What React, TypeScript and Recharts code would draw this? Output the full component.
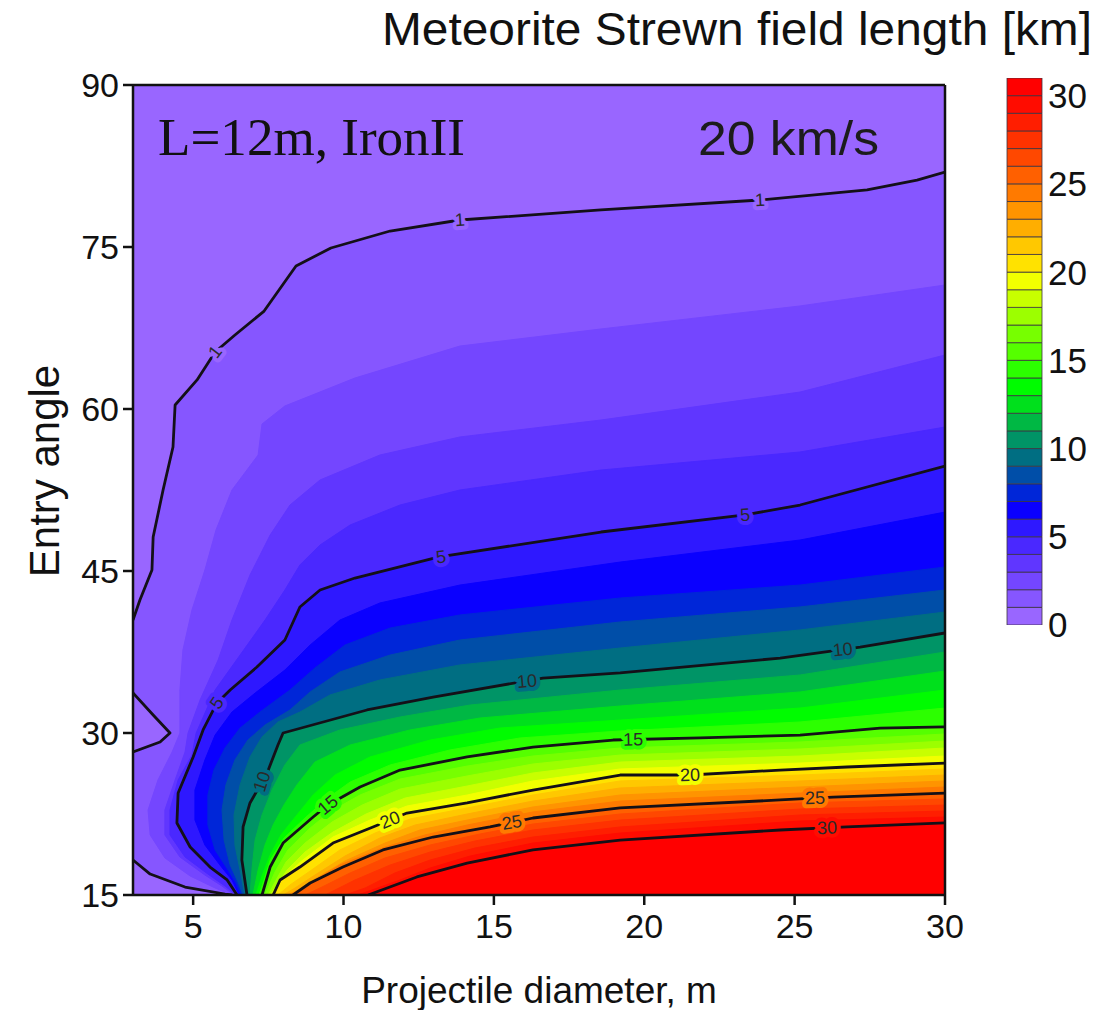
import React from 'react';
import { ComposedChart, Scatter, XAxis, YAxis, BarChart, Bar } from 'recharts';

type P = [number, number];

const FONT = '"Liberation Sans", Arial, Helvetica, sans-serif';
const SERIF = '"Liberation Serif", "Times New Roman", serif';

// colour of each 1 km band: index i = [i, i+1) km, last = >= 30 km
const BAND_COLORS = [
  '#9966ff', '#8656ff', '#7446ff', '#6036ff', '#4a28ff', '#2e18ff', '#0a00ff', '#0026d8',
  '#004ea8', '#006e82', '#009466', '#00b844', '#00e01c', '#00fc00', '#2cff00', '#55ff00',
  '#77ff00', '#9cff00', '#c8ff00', '#f2ff00', '#ffe200', '#ffc800', '#ffae00', '#ff9400',
  '#ff7a00', '#ff6000', '#ff4800', '#ff3200', '#ff1e00', '#ff0c00', '#ff0000',
];

const X_TICKS = [5, 10, 15, 20, 25, 30];
const Y_TICKS = [15, 30, 45, 60, 75, 90];
const Y_RIGHT_TICKS = [20, 30, 40, 50, 60, 70, 80];
const X_TOP_TICKS = [5, 10, 15, 20, 25, 30];
const CBAR_TICKS = [0, 5, 10, 15, 20, 25, 30];
const CBAR_LEVELS = [0, 1, 2, 3, 4, 5, 6, 7, 8, 9, 10, 11, 12, 13, 14, 15, 16, 17, 18, 19, 20, 21, 22, 23, 24, 25, 26, 27, 28, 29, 30, 31];

const DOMAIN_X: P = [3, 30];
const DOMAIN_Y: P = [15, 90];

// contour / band boundaries: [diameter m, entry angle deg]
const C01: P[] = [[3.0, 40.46], [3.23, 42.31], [3.63, 45.09], [3.67, 48.15], [4.0, 52.5], [4.33, 56.48], [4.4, 60.37], [5.13, 62.69], [5.73, 65.28], [6.39, 66.85], [7.36, 69.07], [8.42, 73.24], [9.58, 74.91], [11.55, 76.48], [13.87, 77.5], [18.56, 78.43], [23.85, 79.35], [27.41, 80.28], [29.07, 81.2], [30, 81.94]];
const P01: P[] = [[3, 33.7], [3.67, 31.67], [4.23, 30.0], [3.9, 29.17], [3, 28.24]];
const K01: P[] = [[3, 18.24], [3.57, 16.94], [4.73, 15.74], [6.06, 15.09], [6.3, 15]];
const C02: P[] = [[6.29, 15], [5.73, 15.65], [4.9, 16.76], [4.06, 18.43], [3.57, 20.56], [3.5, 22.87], [3.83, 25.65], [4.3, 28.24], [4.56, 30.0], [4.56, 33.98], [4.66, 37.69], [4.96, 41.39], [5.39, 45.09], [5.76, 48.8], [6.29, 52.5], [7.16, 55.74], [7.29, 58.61], [8.05, 60.28], [10.38, 62.87], [13.87, 65.83], [18.56, 67.41], [25.18, 69.54], [30, 71.48]];
const C03: P[] = [[6.36, 15], [5.96, 15.83], [5.39, 16.85], [4.56, 18.52], [4.06, 20.56], [4.06, 22.87], [4.4, 25.65], [4.73, 28.24], [4.83, 30.0], [5.23, 33.06], [5.83, 36.76], [6.29, 40.46], [6.89, 44.63], [7.56, 48.33], [8.22, 51.11], [9.22, 53.43], [11.21, 55.74], [13.87, 57.41], [18.56, 58.98], [25.18, 61.57], [30, 65.0]];
const C04: P[] = [[6.43, 15], [6.06, 15.83], [5.49, 16.94], [4.73, 18.52], [4.23, 20.56], [4.23, 22.87], [4.5, 25.65], [4.96, 27.96], [5.1, 30.0], [5.73, 33.98], [6.56, 37.22], [7.39, 40.46], [8.05, 43.24], [8.55, 45.56], [9.22, 47.41], [10.22, 49.26], [11.88, 51.11], [13.87, 52.5], [18.56, 54.35], [25.18, 56.02], [30, 58.33]];
const C05: P[] = [[6.46, 15], [6.13, 16.39], [5.56, 17.59], [4.9, 19.44], [4.46, 21.67], [4.5, 24.44], [5.0, 27.78], [5.33, 30.28], [5.79, 32.78], [6.23, 33.98], [7.12, 36.11], [8.05, 38.61], [8.55, 41.67], [9.22, 43.24], [10.38, 44.35], [13.18, 46.3], [18.56, 48.61], [23.35, 50.19], [25.18, 51.11], [30, 54.72]];
const C06: P[] = [[6.53, 15], [6.29, 16.39], [5.89, 17.78], [5.39, 19.63], [5.06, 21.94], [5.06, 24.72], [5.39, 27.5], [5.73, 29.81], [6.29, 31.94], [7.06, 33.7], [8.05, 35.83], [8.89, 38.15], [9.88, 40.46], [11.21, 42.04], [13.87, 43.7], [19.2, 45.83], [25.18, 47.87], [30, 50.46]];
const C07: P[] = [[6.59, 15], [6.43, 16.11], [6.16, 17.31], [5.73, 19.17], [5.49, 21.48], [5.49, 24.26], [5.69, 26.57], [6.06, 28.61], [6.56, 30.46], [7.22, 31.94], [8.22, 33.98], [9.05, 36.02], [10.05, 38.15], [11.55, 39.72], [13.87, 40.93], [19.2, 42.5], [25.18, 43.7], [30, 45.37]];
const C08: P[] = [[6.66, 15], [6.49, 16.2], [6.23, 17.78], [6.03, 20.09], [5.96, 22.87], [6.09, 25.19], [6.39, 27.5], [6.82, 29.35], [7.39, 30.74], [8.22, 32.13], [8.89, 33.8], [9.88, 35.65], [11.55, 37.22], [13.87, 38.61], [19.2, 40.28], [25.18, 41.67], [30, 43.24]];
const C09: P[] = [[6.72, 15], [6.56, 17.31], [6.39, 19.63], [6.36, 22.41], [6.56, 25.19], [6.89, 27.78], [7.29, 29.63], [7.82, 31.02], [8.55, 31.94], [9.55, 33.52], [11.21, 34.91], [13.87, 36.3], [19.2, 37.87], [25.18, 39.54], [30, 41.2]];
const C10: P[] = [[6.79, 15], [6.62, 18.24], [6.66, 21.3], [6.89, 23.52], [7.46, 26.3], [7.82, 28.89], [7.99, 30.0], [10.78, 32.13], [12.98, 33.33], [16.63, 35.09], [19.2, 35.56], [24.52, 36.94], [27.18, 37.96], [30, 39.26]];
const C11: P[] = [[6.89, 15], [6.96, 17.5], [7.06, 20.09], [7.29, 22.41], [7.62, 24.72], [8.05, 27.04], [8.55, 28.89], [9.88, 30.28], [11.88, 31.48], [14.21, 32.59], [19.2, 33.98], [25.18, 35.37], [30, 37.5]];
const C12: P[] = [[6.99, 15], [7.16, 17.31], [7.39, 19.63], [7.66, 21.48], [8.02, 23.33], [8.45, 25.19], [9.05, 27.31], [10.22, 28.89], [12.21, 30.28], [14.54, 31.39], [19.2, 32.5], [25.18, 33.8], [30, 35.74]];
const C13: P[] = [[7.09, 15], [7.29, 16.76], [7.56, 18.7], [7.92, 20.56], [8.45, 22.41], [8.99, 24.26], [9.72, 26.11], [10.88, 27.78], [12.88, 29.35], [15.2, 30.46], [19.2, 31.2], [25.18, 32.31], [30, 33.98]];
const C14: P[] = [[7.19, 15], [7.36, 16.39], [7.56, 18.24], [8.02, 20.28], [8.72, 22.13], [9.39, 23.8], [10.22, 25.46], [11.55, 27.04], [13.54, 28.43], [15.87, 29.54], [19.2, 30.19], [25.18, 31.02], [30, 32.31]];
const C15: P[] = [[7.29, 15], [7.56, 17.59], [7.99, 19.81], [8.99, 22.22], [9.48, 23.33], [10.55, 25.0], [11.88, 26.57], [14.11, 27.78], [16.3, 28.7], [18.96, 29.35], [21.86, 29.54], [25.18, 29.81], [27.84, 30.46], [30, 30.56]];
const C16: P[] = [[7.39, 15], [7.72, 17.13], [8.15, 19.17], [8.89, 21.2], [9.55, 22.69], [10.55, 24.26], [11.88, 25.74], [14.11, 26.94], [16.3, 27.87], [19.2, 28.61], [25.18, 29.17], [30, 29.91]];
const C17: P[] = [[7.49, 15], [7.76, 16.39], [8.09, 18.06], [8.72, 19.81], [9.62, 21.76], [10.62, 23.33], [11.88, 24.81], [14.11, 26.02], [16.3, 27.13], [19.2, 27.96], [25.18, 28.52], [30, 29.26]];
const C18: P[] = [[7.56, 15], [7.82, 16.02], [8.12, 17.31], [8.72, 18.98], [9.65, 20.83], [10.75, 22.5], [12.05, 23.98], [14.11, 25.09], [16.3, 26.3], [19.2, 27.31], [25.18, 27.87], [30, 28.61]];
const C19: P[] = [[7.62, 15], [7.82, 15.65], [8.05, 16.76], [8.65, 18.24], [9.65, 20.37], [10.88, 21.94], [12.11, 23.24], [14.11, 24.26], [16.3, 25.56], [19.2, 26.67], [25.18, 27.22], [30, 27.87]];
const C20: P[] = [[7.66, 15], [7.89, 16.39], [8.55, 17.59], [9.65, 19.81], [10.98, 21.3], [12.11, 22.59], [14.11, 23.52], [16.3, 24.72], [19.2, 26.11], [21.52, 26.11], [24.52, 26.57], [26.74, 26.85], [30, 27.22]];
const C21: P[] = [[7.82, 15], [8.22, 15.93], [8.89, 17.22], [9.88, 19.17], [11.05, 20.74], [12.21, 22.04], [14.11, 23.06], [16.3, 24.26], [19.2, 25.56], [25.18, 26.11], [30, 26.67]];
const C22: P[] = [[7.99, 15], [8.39, 15.65], [9.05, 16.85], [10.05, 18.61], [11.21, 20.28], [12.38, 21.48], [14.11, 22.5], [16.3, 23.7], [19.2, 24.91], [25.18, 25.56], [30, 26.11]];
const C23: P[] = [[8.12, 15], [8.49, 15.46], [9.05, 16.48], [10.05, 18.15], [11.38, 19.81], [12.54, 21.02], [14.11, 21.94], [16.3, 23.15], [19.2, 24.26], [25.18, 25.0], [30, 25.56]];
const C24: P[] = [[8.22, 15], [8.49, 15.37], [8.95, 16.2], [9.88, 17.78], [11.38, 19.44], [12.71, 20.56], [14.11, 21.48], [16.3, 22.69], [19.2, 23.7], [25.18, 24.44], [30, 25.0]];
const C25: P[] = [[8.32, 15], [8.89, 16.11], [9.98, 17.59], [11.31, 19.17], [12.98, 20.37], [14.87, 21.3], [16.3, 22.13], [19.2, 23.06], [24.52, 23.8], [26.28, 24.07], [30, 24.44]];
const C26: P[] = [[8.72, 15], [9.22, 15.65], [10.22, 17.04], [11.38, 18.43], [12.88, 19.63], [14.54, 20.65], [16.3, 21.57], [19.2, 22.5], [25.18, 23.52], [30, 23.89]];
const C27: P[] = [[9.39, 15], [10.38, 16.39], [11.55, 17.78], [12.88, 18.98], [14.37, 20.0], [16.3, 21.02], [19.2, 21.94], [25.18, 22.96], [30, 23.33]];
const C28: P[] = [[10.05, 15], [10.72, 15.65], [11.71, 17.04], [12.88, 18.24], [14.37, 19.35], [16.3, 20.37], [19.2, 21.3], [25.18, 22.41], [30, 22.78]];
const C29: P[] = [[10.48, 15], [11.88, 16.39], [12.88, 17.5], [14.21, 18.61], [16.3, 19.81], [19.2, 20.74], [25.18, 21.85], [30, 22.22]];
const C30: P[] = [[10.82, 15], [12.44, 16.67], [14.11, 17.96], [16.3, 19.17], [19.2, 20.09], [24.52, 21.02], [26.74, 21.3], [30, 21.67]];

const LEVEL_CURVES: P[][] = [C01, C02, C03, C04, C05, C06, C07, C08, C09, C10, C11, C12, C13, C14, C15, C16, C17, C18, C19, C20, C21, C22, C23, C24, C25, C26, C27, C28, C29, C30];
const CONTOUR_LINES: P[][] = [C01, P01, K01, C05, C10, C15, C20, C25, C30];

const CONTOUR_LABELS = [
  { x: 5.73, y: 65.28, text: '1', level: 1, angle: -52 },
  { x: 13.87, y: 77.5, text: '1', level: 1, angle: -4 },
  { x: 23.85, y: 79.35, text: '1', level: 1, angle: -3 },
  { x: 5.79, y: 32.78, text: '5', level: 5, angle: -56 },
  { x: 13.24, y: 46.3, text: '5', level: 5, angle: -7 },
  { x: 23.35, y: 50.19, text: '5', level: 5, angle: -4 },
  { x: 7.29, y: 25.5, text: '10', level: 10, angle: -72 },
  { x: 16.1, y: 34.8, text: '10', level: 10, angle: -5 },
  { x: 26.6, y: 37.74, text: '10', level: 10, angle: -6 },
  { x: 9.48, y: 23.33, text: '15', level: 15, angle: -40 },
  { x: 19.63, y: 29.4, text: '15', level: 15, angle: -1 },
  { x: 11.55, y: 21.95, text: '20', level: 20, angle: -22 },
  { x: 21.52, y: 26.11, text: '20', level: 20, angle: -2 },
  { x: 15.6, y: 21.72, text: '25', level: 25, angle: -9 },
  { x: 25.68, y: 23.98, text: '25', level: 25, angle: -2 },
  { x: 26.08, y: 21.22, text: '30', level: 30, angle: -2 },
];

const toPts = (a: P[]) => a.map(([x, y]) => ({ x, y }));

const closeToBottom = (curve: P[]) => {
  const pts = toPts(curve);
  const first = curve[0];
  const last = curve[curve.length - 1];
  const out = [...pts, { x: last[0], y: DOMAIN_Y[0] }];
  if (first[1] > DOMAIN_Y[0]) out.push({ x: first[0], y: DOMAIN_Y[0] });
  return out;
};

const BACKGROUND = [
  { x: DOMAIN_X[0], y: DOMAIN_Y[0] },
  { x: DOMAIN_X[0], y: DOMAIN_Y[1] },
  { x: DOMAIN_X[1], y: DOMAIN_Y[1] },
  { x: DOMAIN_X[1], y: DOMAIN_Y[0] },
];
const FRAME = [...BACKGROUND, BACKGROUND[0]];

const NoShape = () => <g />;

const LabelShape = (props: any) => {
  const { cx, cy, payload } = props;
  if (cx == null || cy == null || !payload) return <g />;
  const halo = BAND_COLORS[Math.max(0, payload.level - 1)];
  return (
    <text
      x={cx}
      y={cy}
      transform={`rotate(${payload.angle} ${cx} ${cy})`}
      textAnchor="middle"
      dominantBaseline="central"
      fontSize={18}
      fontFamily={FONT}
      fill="#2a2a2a"
      stroke={halo}
      strokeWidth={8}
      strokeLinejoin="round"
      paintOrder="stroke"
    >
      {payload.text}
    </text>
  );
};

const cbarRow: Record<string, number | string> = { name: 'scale' };
BAND_COLORS.forEach((_, i) => {
  cbarRow[`b${i}`] = CBAR_LEVELS[i + 1] - CBAR_LEVELS[i];
});

const tickStyle = { fontSize: 34, fill: '#111', fontFamily: FONT };
const axisLineStyle = { stroke: '#111', strokeWidth: 2.5 };

export default function App() {
  return (
    <div style={{ position: 'absolute', left: 0, top: 0, width: 1112, height: 1010, background: '#fff' }}>
      <div style={{ position: 'absolute', left: 0, top: 0 }}>
        <ComposedChart width={1112} height={1010} margin={{ top: 73, right: 155, bottom: 65, left: 63 }}>
          <Scatter data={BACKGROUND} shape={NoShape} line={{ fill: BAND_COLORS[0], stroke: BAND_COLORS[0], strokeWidth: 1 }} isAnimationActive={false} />
          {LEVEL_CURVES.map((curve, i) => (
            <Scatter
              key={`band${i + 1}`}
              data={closeToBottom(curve)}
              shape={NoShape}
              line={{ fill: BAND_COLORS[i + 1], stroke: BAND_COLORS[i + 1], strokeWidth: 1 }}
              isAnimationActive={false}
            />
          ))}
          <Scatter data={toPts(P01)} shape={NoShape} line={{ fill: BAND_COLORS[0], stroke: BAND_COLORS[0], strokeWidth: 1 }} isAnimationActive={false} />
          <Scatter data={closeToBottom(K01).concat([{ x: DOMAIN_X[0], y: DOMAIN_Y[0] }])} shape={NoShape} line={{ fill: BAND_COLORS[0], stroke: BAND_COLORS[0], strokeWidth: 1 }} isAnimationActive={false} />
          {CONTOUR_LINES.map((curve, i) => (
            <Scatter
              key={`line${i}`}
              data={toPts(curve)}
              shape={NoShape}
              line={{ fill: 'none', stroke: '#141018', strokeWidth: 2.8, strokeLinejoin: 'round' }}
              isAnimationActive={false}
            />
          ))}
          <Scatter data={CONTOUR_LABELS} shape={LabelShape} isAnimationActive={false} />
          <Scatter data={FRAME} shape={NoShape} line={{ fill: 'none', stroke: '#111', strokeWidth: 2.5 }} isAnimationActive={false} />
          <Scatter xAxisId="top" yAxisId="right" data={BACKGROUND} shape={NoShape} isAnimationActive={false} />
          <XAxis
            type="number"
            dataKey="x"
            domain={DOMAIN_X}
            allowDataOverflow
            ticks={X_TICKS}
            interval={0}
            height={50}
            tickSize={10}
            tickMargin={9}
            tick={tickStyle}
            axisLine={axisLineStyle}
            tickLine={axisLineStyle}
          />
          <YAxis
            type="number"
            dataKey="y"
            domain={DOMAIN_Y}
            allowDataOverflow
            ticks={Y_TICKS}
            interval={0}
            width={70}
            tickSize={10}
            tickMargin={4}
            tick={tickStyle}
            axisLine={axisLineStyle}
            tickLine={axisLineStyle}
          />
          <XAxis
            xAxisId="top"
            orientation="top"
            type="number"
            dataKey="x"
            domain={DOMAIN_X}
            allowDataOverflow
            ticks={X_TOP_TICKS}
            interval={0}
            height={12}
            tickSize={10}
            tick={false}
            axisLine={axisLineStyle}
            tickLine={axisLineStyle}
          />
          <YAxis
            yAxisId="right"
            orientation="right"
            type="number"
            dataKey="y"
            domain={DOMAIN_Y}
            allowDataOverflow
            ticks={Y_RIGHT_TICKS}
            interval={0}
            width={12}
            tickSize={10}
            tick={false}
            axisLine={axisLineStyle}
            tickLine={axisLineStyle}
          />
        </ComposedChart>
      </div>
      <div style={{ position: 'absolute', left: 1000, top: 60 }}>
        <BarChart width={112} height={610} data={[cbarRow]} margin={{ top: 18, right: 0, bottom: 45, left: 7 }} barCategoryGap={0} barGap={0}>
          <XAxis dataKey="name" hide />
          <YAxis
            orientation="right"
            type="number"
            domain={[CBAR_LEVELS[0], CBAR_LEVELS[CBAR_LEVELS.length - 1]]}
            allowDataOverflow
            ticks={CBAR_TICKS}
            interval={0}
            width={70}
            axisLine={false}
            tickLine={false}
            tickSize={4}
            tickMargin={2}
            tick={{ fontSize: 35, fill: '#111', fontFamily: FONT }}
          />
          {BAND_COLORS.map((c, i) => (
            <Bar key={`cb${i}`} dataKey={`b${i}`} stackId="s" fill={c} stroke="#3c3440" strokeWidth={0.8} isAnimationActive={false} />
          ))}
        </BarChart>
      </div>
      <svg width={1112} height={1010} style={{ position: 'absolute', left: 0, top: 0, pointerEvents: 'none' }}>
        <text x={382} y={45} fontSize={47} fontFamily={FONT} fill="#111" textLength={710} lengthAdjust="spacingAndGlyphs">
          Meteorite Strewn field length [km]
        </text>
        <text x={158} y={155} fontSize={53} fontFamily={SERIF} fill="#111" textLength={307} lengthAdjust="spacingAndGlyphs">
          L=12m, IronII
        </text>
        <text x={698} y={155} fontSize={49} fontFamily={FONT} fill="#1c1c1c" textLength={181} lengthAdjust="spacingAndGlyphs">
          20 km/s
        </text>
        <text x={539} y={1003} fontSize={37} fontFamily={FONT} fill="#111" textAnchor="middle">
          Projectile diameter, m
        </text>
        <text x={59} y={471} fontSize={42} fontFamily={FONT} fill="#111" textAnchor="middle" transform="rotate(-90 59 471)">
          Entry angle
        </text>
      </svg>
    </div>
  );
}
